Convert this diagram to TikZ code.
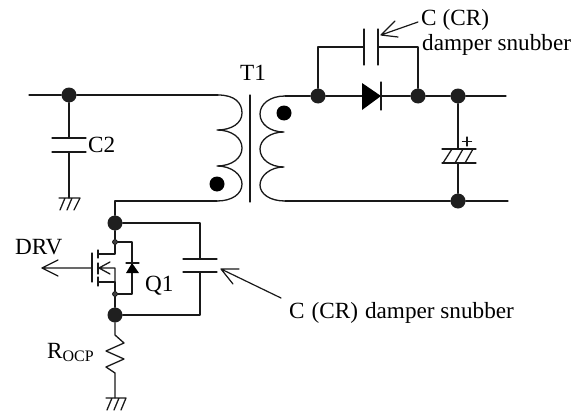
\documentclass[tikz,border=0pt]{standalone}
\usepackage{fontspec}
\setmainfont{Liberation Serif}
\usetikzlibrary{calc}
\tikzset{
  wire/.style={draw=black!90,line width=1.3pt,line cap=round,line join=round},
  jn/.style={circle,fill=black!88,draw=none,inner sep=0pt,minimum size=15pt},
  smalljn/.style={circle,fill=black!75,draw=black,line width=.6pt,inner sep=0pt,minimum size=5pt},
  dotmark/.style={circle,fill=black,draw=none,inner sep=0pt,minimum size=15pt},
  lab/.style={inner sep=0pt,font=\fontsize{23.2}{25}\selectfont,anchor=base west},
  note/.style={wire,line width=1.2pt},
}
\begin{document}
\begin{tikzpicture}[x=1pt,y=-1pt]
\useasboundingbox (0,0) rectangle (586,412);
% free ends and corners
\coordinate (inL) at (29,95);
\coordinate (priT) at (218,95);
\coordinate (priB) at (217,201);
\coordinate (priC) at (115,201);
\coordinate (secT) at (285,96);
\coordinate (secB) at (285,201);
\coordinate (outT) at (506,96);
\coordinate (outB) at (508,201);
% junctions
\node[jn] (a) at (69,95) {};
\node[jn] (d) at (115,223) {};
\node[jn] (s) at (115,315) {};
\node[jn] (k1) at (318,96) {};
\node[jn] (k2) at (418,96) {};
\node[jn] (k3) at (458,96) {};
\node[jn] (k4) at (458,201) {};
\node[smalljn] (dd) at (115,242) {};
\node[smalljn] (ss) at (115,294) {};
% phase dots
\node[dotmark] (p1) at (217,184) {};
\node[dotmark] (p2) at (284,113) {};
% C2
\coordinate (c2a) at (69,138);
\coordinate (c2b) at (69,152);
\coordinate (g1) at (69,198);
\draw[wire] (inL) -- (a) -- (priT);
\draw[wire] (a) -- (c2a) (c2b) -- (g1);
\draw[wire] (52,138) -- (86,138) (52,152) -- (86,152);
\draw[wire] (59,198) -- (80,198) (65,198) -- (60,210) (72,198) -- (67,210) (80,198) -- (74,210);
% primary
\draw[wire] (priT) .. controls (235,95) and (242,103) .. (242,113)
  .. controls (242,123) and (232,130) .. (217,130)
  .. controls (232,130) and (242,138) .. (242,148)
  .. controls (242,158) and (232,166) .. (217,166)
  .. controls (232,166) and (242,175) .. (242,184)
  .. controls (242,194) and (232,201) .. (priB);
\draw[wire] (priB) -- (priC) -- (d);
% core
\draw[wire] (250,95) -- (250,202);
% secondary
\draw[wire] (secT) .. controls (270,96) and (260,104) .. (260,114)
  .. controls (260,124) and (270,132) .. (284,132)
  .. controls (270,132) and (260,140) .. (260,149)
  .. controls (260,159) and (270,167) .. (284,167)
  .. controls (270,167) and (260,176) .. (260,185)
  .. controls (260,194) and (270,201) .. (secB);
\draw[wire] (secT) -- (k1) -- (k2) -- (k3) -- (outT);
\draw[wire] (secB) -- (k4) -- (outB);
% rectifier diode
\fill[black] (362,83) -- (381,96) -- (362,110) -- cycle;
\draw[wire] (381,82) -- (381,110);
% snubber
\coordinate (sa) at (318,47);
\coordinate (sb) at (364,47);
\coordinate (sc) at (378,47);
\coordinate (sd) at (418,47);
\draw[wire] (k1) -- (sa) -- (sb) (sc) -- (sd) -- (k2);
\draw[wire] (364,29) -- (364,65) (378,29) -- (378,65);
% output cap
\draw[wire] (k3) -- (458,149) (458,163) -- (k4);
\draw[wire] (442,149) -- (476,149) (442,163) -- (476,163);
\draw[wire] (443,163) -- (452,149) (455,163) -- (463,149) (465,163) -- (473,149);
\draw[wire] (467,137) -- (467,146) (462.5,141.5) -- (471.5,141.5);
% MOSFET
\coordinate (gate) at (92,268);
\coordinate (drvtip) at (42,268);
\draw[wire] (gate) -- (drvtip) -- (58,260) (drvtip) -- (58,276);
\draw[wire] (92,253) -- (92,282);
\draw[wire] (98,250) -- (98,258) (98,263) -- (98,274) (98,277) -- (98,286);
\draw[wire] (d) -- (dd) -- (115,254) -- (98,254);
\draw[wire] (s) -- (ss) -- (115,282) -- (98,282);
\draw[wire] (115,282) -- (115,268) -- (99,268) -- (110,262) (99,268) -- (110,274);
% body diode
\draw[wire] (dd) -- (132,242) -- (132,294) -- (ss);
\fill[black] (132,263) -- (139,273) -- (126,273) -- cycle;
\draw[wire] (126,263) -- (139,263);
% snubber across FET
\coordinate (fa) at (200,223);
\coordinate (fb) at (200,315);
\draw[wire] (d) -- (fa) -- (200,259) (200,272) -- (fb) -- (s);
\draw[wire] (183,259) -- (217,259) (183,272) -- (217,272);
% Rocp
\coordinate (g2) at (115,398);
\draw[wire] (s) -- (115,335) -- (124,343) -- (106,351) -- (124,359) -- (106,367) -- (115,373) -- (g2);
\draw[wire] (106,398) -- (126,398) (112,398) -- (107,410) (119,398) -- (114,410) (126,398) -- (121,410);
% labels
\node[lab] (lT) at (240,81) {T1};
\node[lab] (lC2) at (88,152) {C2};
\node[lab] (lDRV) at (15,254) {DRV};
\node[lab] (lQ) at (145,291) {Q1};
\node[lab] (lR) at (47,358) {R\raisebox{-3.5pt}{\fontsize{16}{16}\selectfont OCP}};
\node[lab] (lS1) at (421,26) {C\hspace{6pt}(CR)};
\node[lab] (lS2) at (422,51) {damper snubber};
\node[lab] (lS3) at (289,318) {C\hspace{7pt}(CR)\hspace{7pt}damper snubber};
% pointers
\coordinate (tip1) at (381,35);
\coordinate (tail1) at (418,22);
\coordinate (tip2) at (221,269);
\coordinate (tail2) at (281,298);
\draw[note] (tail1) -- (tip1) (tip1) -- (395,21) (tip1) -- (398,37);
\draw[note] (tail2) -- (tip2) (tip2) -- (239,269) (tip2) -- (233,284);
\end{tikzpicture}
\end{document}
